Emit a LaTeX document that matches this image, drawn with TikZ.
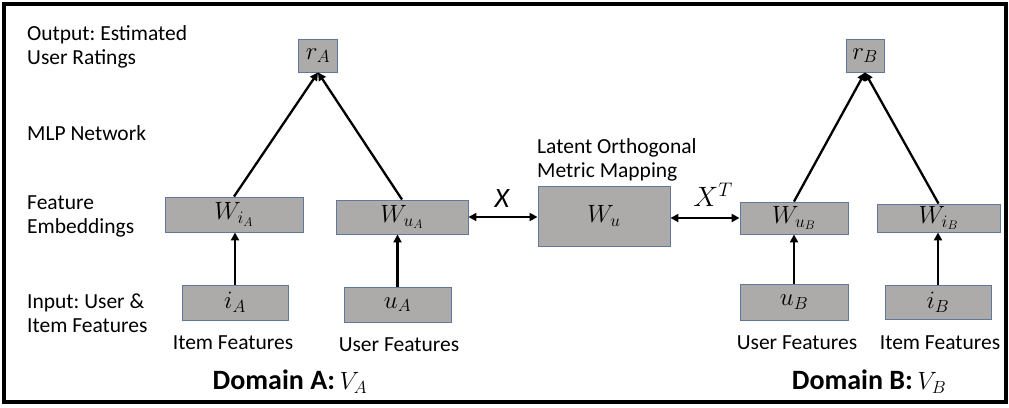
\RequirePackage{fix-cm}
\documentclass[tikz,border=0pt]{standalone}
\usepackage{fontspec}
\setmainfont{Carlito}
\usetikzlibrary{arrows.meta}
\definecolor{boxfill}{RGB}{173,170,170}
\definecolor{boxline}{RGB}{95,120,155}
\frenchspacing
\begin{document}
\begin{tikzpicture}[x=1pt,y=-1pt,
  box/.style={draw=boxline, line width=0.9pt, fill=boxfill, inner sep=0pt, font=\fontsize{25}{26}\selectfont},
  lbl/.style={font=\fontsize{21.5}{24}\selectfont, inner sep=0pt, align=left},
  conn/.style={line width=2.3pt, -{Triangle[length=8pt,width=8pt]}},
  bidir/.style={line width=2.3pt, {Triangle[length=8pt,width=8pt]}-{Triangle[length=8pt,width=8pt]}}
]
\useasboundingbox (0,0) rectangle (1009,407);
\draw[line width=3.5pt] (4,4) rectangle (1006,402);

% left labels
\node[lbl, anchor=west] (l1) at (27,47) {Output: Estimated\\User Ratings};
\node[lbl, anchor=west] (l2) at (27,133) {MLP Network};
\node[lbl, anchor=west] (l3) at (27,216) {Feature\\Embeddings};
\node[lbl, anchor=west] (l4) at (27,313) {Input: User \&\\Item Features};

% domain A
\node[box, minimum width=39, minimum height=33] (rA) at (318,55.5) {$r_A$};
\node[box, minimum width=138, minimum height=35] (WiA) at (234,214.5) {$W_{i_A}$};
\node[box, minimum width=132, minimum height=34] (WuA) at (402,217) {$W_{u_A}$};
\node[box, minimum width=106, minimum height=35] (iA) at (235,302.5) {$i_A$};
\node[box, minimum width=107, minimum height=35] (uA) at (397.5,304.5) {$u_A$};
\node[lbl] (tiA) at (233,343) {Item Features};
\node[lbl] (tuA) at (399,345) {User Features};
\node[lbl, font=\fontsize{28}{30}\selectfont\bfseries] (dA) at (290,382) {Domain A:\,\normalfont\fontsize{25}{26}\selectfont$V_A$};

% middle
\node[box, minimum width=132, minimum height=60] (Wu) at (604,216) {$W_u$};
\node[lbl, anchor=west] (lat) at (537,160) {Latent Orthogonal\\Metric Mapping};

% domain B
\node[box, minimum width=38, minimum height=33] (rB) at (865,55.5) {$r_B$};
\node[box, minimum width=108, minimum height=32] (WuB) at (794,218) {$W_{u_B}$};
\node[box, minimum width=123, minimum height=28] (WiB) at (938.5,218) {$W_{i_B}$};
\node[box, minimum width=108, minimum height=36] (uB) at (794,302) {$u_B$};
\node[box, minimum width=106, minimum height=34] (iB) at (938,302) {$i_B$};
\node[lbl] (tuB) at (797,343) {User Features};
\node[lbl] (tiB) at (940,343) {Item Features};
\node[lbl, font=\fontsize{28}{30}\selectfont\bfseries] (dB) at (869,382) {Domain B:\,\normalfont\fontsize{25}{26}\selectfont$V_B$};

% arrow labels
\node[inner sep=0pt, font=\fontsize{28}{30}\selectfont\itshape] (X) at (502,199) {X};
\node[inner sep=0pt, font=\fontsize{28}{30}\selectfont] (XT) at (713,195) {$X^T$};

% connectors
\draw[conn] (WiA.north) -- (rA.south);
\draw[conn] (WuA.north) -- (rA.south);
\draw[conn] (iA.north) -- (iA.north |- WiA.south);
\draw[conn] (uA.north) -- (uA.north |- WuA.south);
\draw[conn] (WuB.north) -- (rB.south);
\draw[conn] (WiB.north) -- (rB.south);
\draw[conn] (uB.north) -- (uB.north |- WuB.south);
\draw[conn] (iB.north) -- (iB.north |- WiB.south);
\draw[bidir] (WuA.east) -- (WuA.east -| Wu.west);
\draw[bidir] (Wu.east |- WuB.west) -- (WuB.west);
\end{tikzpicture}
\end{document}
